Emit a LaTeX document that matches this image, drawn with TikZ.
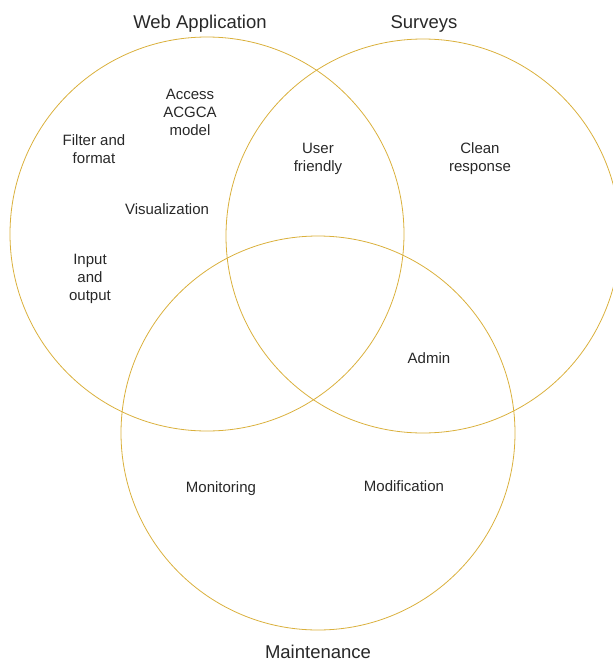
\documentclass[tikz,border=0pt]{standalone}
\usepackage{fontspec}
\setmainfont{Liberation Sans}
\begin{document}
\begin{tikzpicture}[x=1pt, y=-1pt,
    ring/.style={circle, draw=ringcol, line width=0.8pt, minimum size=394pt, inner sep=0pt},
    title/.style={text=txtcol, font=\fontsize{18.5}{22}\selectfont},
    item/.style={text=txtcol, align=center, font=\fontsize{15}{18}\selectfont}]
    % --- colours and size ---
    \definecolor{ringcol}{RGB}{218,176,60}
    \definecolor{txtcol}{RGB}{40,40,40}
    \useasboundingbox (0,0) rectangle (613,662);

    % --- the three circles ---
    \node[ring] (web) at (207,234) {};
    \node[ring] (surv) at (423,236) {};
    \node[ring] (maint) at (318,433) {};

    % --- circle titles ---
    \node[title] (webT) at (200,24) {Web Application};
    \node[title] (survT) at (424,24) {Surveys};
    \node[title] (maintT) at (318,652) {Maintenance};

    % --- labels inside ---
    \node[item] (access) at (190,112) {Access\\ACGCA\\model};
    \node[item] (filter) at (94,149) {Filter and\\format};
    \node[item] (visual) at (167,209) {Visualization};
    \node[item] (inout) at (90,279) {Input\\and\\output};
    \node[item] (user) at (318,159) {User\\friendly};
    \node[item] (clean) at (480,159) {Clean\\response};
    \node[item] (admin) at (429,358) {Admin};
    \node[item] (monit) at (221,489) {Monitoring};
    \node[item] (modif) at (404,486) {Modification};
\end{tikzpicture}
\end{document}
